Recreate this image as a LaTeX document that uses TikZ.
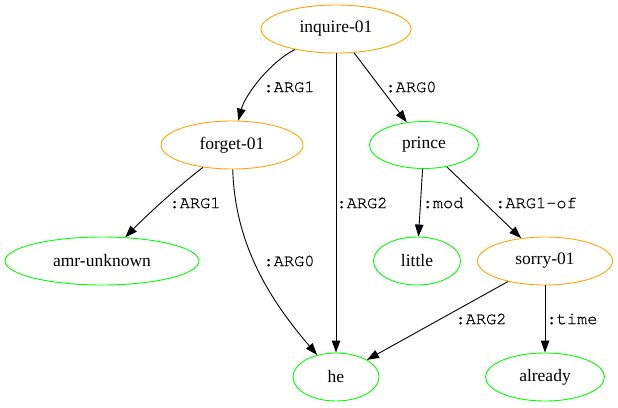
\documentclass[tikz,border=0pt]{standalone}
\usepackage{fontspec}
\setmainfont{Liberation Serif}
\newfontfamily\relfont[FakeBold=0.8]{TeX Gyre Cursor}
\usetikzlibrary{shapes.geometric,arrows.meta}
\definecolor{gvorange}{RGB}{255,165,0}
\definecolor{gvgreen}{RGB}{0,255,0}
\begin{document}
\begin{tikzpicture}[x=1pt,y=-1pt,
  concept/.style={ellipse,draw=#1,line width=0.9pt,inner sep=0pt,
    font=\fontsize{17.5}{20}\selectfont},
  pred/.style={concept=gvorange},
  ent/.style={concept=gvgreen},
  rel/.style={font=\relfont\fontsize{17}{20}\selectfont,inner sep=0pt},
  edge/.style={line width=0.9pt,-{Triangle[length=12pt,width=8.5pt]}}]
\useasboundingbox (0,0) rectangle (618,407);

% concept nodes
\node[pred,minimum width=150,minimum height=48] (inq) at (336,29) {inquire-01};
\node[pred,minimum width=142,minimum height=48] (forget) at (232,145) {forget-01};
\node[ent,minimum width=109,minimum height=47] (prince) at (424,145) {prince};
\node[ent,minimum width=194,minimum height=48] (unk) at (102,261) {amr-unknown};
\node[ent,minimum width=87,minimum height=48] (little) at (417,261) {little};
\node[pred,minimum width=135,minimum height=48] (sorry) at (545,261) {sorry-01};
\node[ent,minimum width=86,minimum height=48] (he) at (336,377) {he};
\node[ent,minimum width=119,minimum height=48] (already) at (545,377) {already};

% relations
\draw[edge] (inq) .. controls (270,62) and (245,95) .. (forget);
\draw[edge] (inq) -- (prince);
\draw[edge] (inq) -- (he);
\draw[edge] (forget) .. controls (180,185) and (150,212) .. (unk);
\draw[edge] (forget) .. controls (235,245) and (270,300) .. (he);
\draw[edge] (prince) -- (little);
\draw[edge] (prince) -- (sorry);
\draw[edge] (sorry) -- (he);
\draw[edge] (sorry) -- (already);

% relation labels
\node[rel] (l1) at (289,87) {:ARG1};
\node[rel] (l2) at (411,87) {:ARG0};
\node[rel] (l3) at (362,203) {:ARG2};
\node[rel] (l4) at (195,203) {:ARG1};
\node[rel] (l5) at (443,203) {:mod};
\node[rel] (l6) at (536,203) {:ARG1-of};
\node[rel] (l7) at (289,261) {:ARG0};
\node[rel] (l8) at (481,319) {:ARG2};
\node[rel] (l9) at (572,319) {:time};
\end{tikzpicture}
\end{document}
